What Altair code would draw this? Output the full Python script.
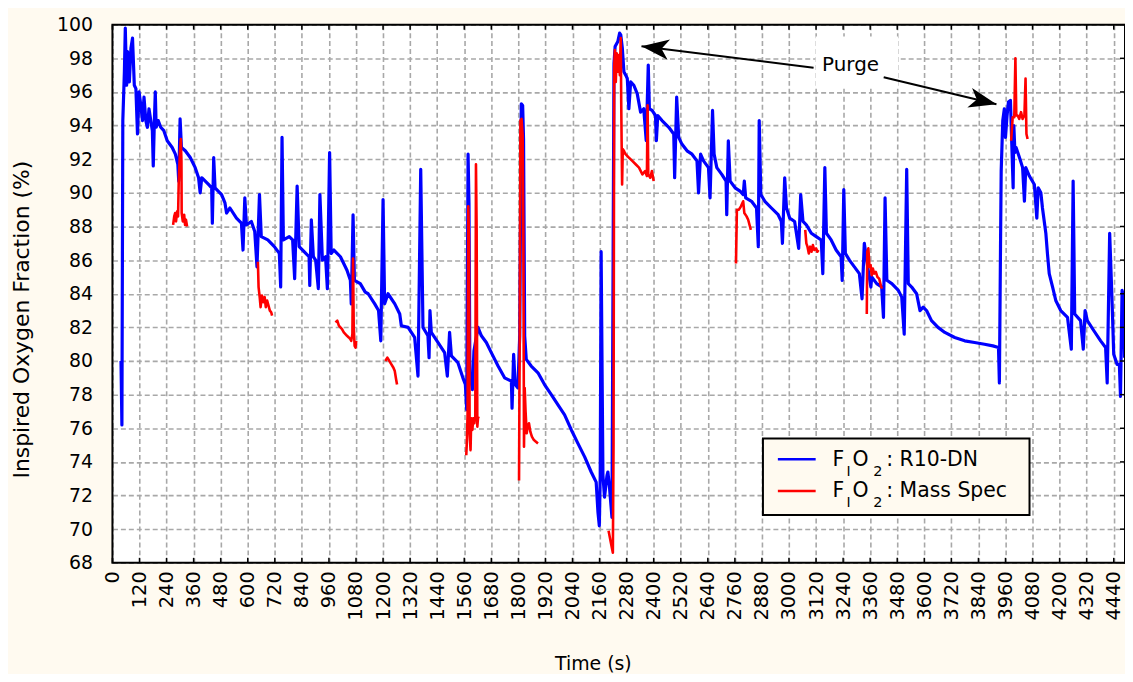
import altair as alt
import pandas as pd

FONT = "DejaVu Sans"

# ---------------- data ----------------
r10_time = [38, 42, 46, 53, 57, 63, 67, 75, 82, 89, 97, 104, 111, 118, 126, 133, 140, 148, 155, 162,
            170, 177, 181, 186, 190, 194, 203, 214, 228, 243, 265, 279, 290, 294, 300, 306, 323, 345, 367, 382,
            389, 396, 426, 440, 443, 449, 455, 484, 499, 506, 521, 550, 572, 579, 587, 594, 616, 631, 641, 652,
            660, 689, 718, 740, 746, 752, 758, 784, 799, 808, 819, 828, 850, 872, 875, 882, 891, 901, 913, 920,
            931, 945, 953, 963, 970, 982, 1011, 1040, 1055, 1059, 1067, 1073, 1099, 1121, 1134, 1163, 1180, 1190, 1200, 1207,
            1222, 1252, 1274, 1281, 1311, 1340, 1355, 1367, 1377, 1399, 1404, 1408, 1414, 1444, 1473, 1485, 1495, 1503, 1532, 1554,
            1565, 1571, 1577, 1581, 1585, 1596, 1603, 1621, 1636, 1658, 1680, 1710, 1739, 1769, 1772, 1779, 1786, 1798, 1806, 1813,
            1819, 1823, 1828, 1835, 1857, 1887, 1916, 1946, 1975, 2005, 2035, 2064, 2094, 2123, 2145, 2153, 2159, 2163, 2167, 2175,
            2182, 2193, 2197, 2204, 2215, 2224, 2229, 2241, 2249, 2254, 2261, 2268, 2276, 2283, 2290, 2298, 2312, 2327, 2342, 2356,
            2367, 2376, 2381, 2393, 2408, 2412, 2418, 2437, 2467, 2489, 2493, 2502, 2511, 2525, 2548, 2570, 2592, 2599, 2608, 2621,
            2643, 2650, 2661, 2668, 2680, 2702, 2721, 2724, 2731, 2739, 2761, 2783, 2797, 2802, 2808, 2834, 2856, 2864, 2868, 2875,
            2893, 2922, 2952, 2966, 2971, 2981, 2989, 3003, 3025, 3043, 3052, 3062, 3077, 3099, 3121, 3143, 3150, 3159, 3166, 3187,
            3209, 3231, 3236, 3243, 3250, 3268, 3290, 3312, 3324, 3334, 3349, 3363, 3367, 3389, 3411, 3419, 3426, 3434, 3456, 3485,
            3500, 3511, 3522, 3529, 3544, 3566, 3581, 3595, 3610, 3632, 3661, 3691, 3735, 3779, 3823, 3867, 3904, 3929, 3933, 3938,
            3941, 3948, 3955, 3960, 3967, 3973, 3982, 3988, 3994, 3997, 4002, 4007, 4022, 4036, 4044, 4050, 4066, 4088, 4099, 4105,
            4117, 4124, 4139, 4146, 4154, 4169, 4183, 4205, 4235, 4252, 4260, 4267, 4293, 4305, 4313, 4323, 4352, 4382, 4404, 4411,
            4422, 4432, 4440, 4455, 4465, 4470, 4477, 4484, 4488]
r10_fio2 = [80.0, 76.2, 94.3, 97.2, 99.8, 96.4, 98.4, 96.6, 98.6, 99.2, 96.4, 96.2, 93.5, 96.0, 95.2, 94.3, 95.7, 94.3, 93.9, 95.0,
            94.3, 93.7, 91.6, 94.3, 96.0, 93.9, 94.3, 93.9, 93.7, 93.1, 92.7, 92.3, 91.7, 90.7, 94.4, 92.7, 92.5, 92.1, 91.5, 90.9,
            90.0, 90.9, 90.5, 90.3, 88.2, 92.1, 90.3, 89.9, 89.4, 88.8, 89.1, 88.5, 88.2, 86.6, 89.7, 88.1, 88.3, 87.7, 85.6, 89.9,
            87.4, 87.2, 86.8, 86.4, 84.4, 93.3, 87.2, 87.4, 87.2, 84.9, 90.4, 86.8, 86.5, 86.2, 84.5, 88.4, 86.2, 86.0, 84.3, 89.9,
            86.0, 86.2, 84.3, 92.4, 86.4, 86.6, 86.2, 85.4, 84.8, 83.4, 88.7, 84.8, 84.6, 84.1, 84.0, 83.4, 83.0, 81.2, 89.6, 83.4,
            84.0, 83.4, 82.8, 82.1, 82.0, 81.4, 79.1, 91.4, 82.0, 81.5, 80.2, 83.0, 81.7, 81.1, 80.5, 79.1, 81.7, 80.3, 79.9, 79.0,
            78.6, 77.1, 92.3, 89.4, 79.3, 78.3, 80.6, 82.0, 81.5, 81.1, 80.5, 79.7, 79.0, 78.8, 77.2, 80.4, 78.6, 78.4, 81.5, 95.3,
            95.2, 93.2, 81.5, 80.1, 79.7, 79.3, 78.6, 78.0, 77.4, 76.8, 75.9, 75.1, 74.3, 73.4, 72.8, 71.0, 70.2, 73.2, 86.5, 73.2,
            71.9, 73.2, 73.4, 72.5, 70.7, 97.7, 98.7, 99.0, 99.5, 99.4, 98.6, 97.2, 97.0, 96.8, 95.0, 96.6, 96.4, 95.9, 94.8, 95.0,
            93.1, 97.6, 95.0, 94.9, 94.6, 93.1, 94.6, 94.3, 93.9, 93.5, 90.9, 95.7, 93.3, 92.9, 92.5, 92.3, 91.9, 90.0, 92.3, 91.9,
            91.5, 89.7, 94.9, 92.3, 91.5, 91.1, 90.7, 88.7, 93.1, 90.7, 90.3, 90.1, 89.9, 90.7, 89.7, 89.5, 89.1, 86.8, 94.3, 89.9,
            89.5, 89.1, 88.7, 88.3, 87.0, 90.9, 89.1, 88.5, 88.3, 86.7, 89.9, 88.3, 88.1, 87.6, 87.4, 87.2, 85.2, 91.5, 87.6, 87.2,
            86.6, 86.2, 84.8, 90.2, 86.4, 86.0, 85.6, 85.2, 83.7, 87.0, 85.6, 84.4, 85.0, 84.6, 84.4, 82.6, 89.7, 84.8, 84.6, 84.2,
            83.8, 81.6, 91.4, 84.6, 84.4, 84.0, 83.0, 83.2, 83.0, 82.4, 82.0, 81.7, 81.4, 81.2, 81.1, 81.0, 80.9, 80.8, 78.7, 86.8,
            91.3, 94.3, 95.0, 93.3, 94.6, 95.4, 95.5, 92.9, 90.3, 94.0, 92.4, 92.7, 92.1, 91.5, 89.5, 91.5, 91.0, 90.5, 88.5, 90.3,
            90.0, 89.1, 87.6, 86.4, 85.2, 84.4, 83.6, 83.0, 82.6, 80.7, 90.7, 82.8, 82.4, 80.7, 83.0, 82.4, 81.8, 81.2, 80.8, 78.7,
            87.6, 83.8, 80.4, 79.8, 79.8, 77.9, 84.2, 83.8, 80.2]

ms_time_1 = [269, 274, 278, 282, 287, 291, 294, 299, 303, 306, 307, 312, 318, 322, 326, 331]
ms_fio2_1 = [88.1, 88.6, 88.8, 88.3, 88.9, 88.6, 90.7, 92.3, 93.2, 91.9, 88.8, 88.3, 88.7, 88.1, 88.4, 88.0]
ms_time_2 = [645, 648, 653, 657, 663, 669, 675, 680, 686, 692, 698, 704, 708]
ms_fio2_2 = [85.9, 84.4, 83.8, 83.2, 83.9, 83.5, 83.8, 83.2, 83.6, 83.3, 83.0, 82.9, 82.7]
ms_time_3 = [989, 997, 1004, 1011, 1018, 1026, 1033, 1040, 1048, 1055, 1059, 1064, 1067, 1070, 1074, 1078, 1081]
ms_fio2_3 = [82.3, 82.4, 82.1, 82.0, 81.9, 81.7, 81.6, 81.5, 81.4, 81.3, 81.2, 81.6, 86.1, 82.0, 80.9, 80.8, 81.2]
ms_time_4 = [1210, 1219, 1228, 1237, 1246, 1252, 1258, 1262]
ms_fio2_4 = [80.0, 80.2, 80.0, 79.8, 79.6, 79.4, 78.9, 78.6]
ms_time_5 = [1569, 1572, 1575, 1578, 1581, 1584, 1588, 1591, 1596, 1600, 1605, 1609, 1612, 1615, 1618, 1621, 1624]
ms_fio2_5 = [74.4, 75.3, 77.0, 89.2, 87.3, 75.7, 74.7, 76.6, 75.9, 76.6, 76.3, 76.7, 91.7, 87.8, 76.1, 76.6, 76.7]
ms_time_6 = [1803, 1806, 1809, 1814, 1819, 1822, 1825, 1828, 1832, 1837, 1841, 1847, 1853, 1860, 1869, 1878, 1887]
ms_fio2_6 = [72.9, 81.5, 94.3, 94.4, 93.4, 87.8, 74.9, 78.4, 77.0, 75.7, 76.1, 76.3, 75.8, 75.5, 75.3, 75.2, 75.1]
ms_time_7 = [2200, 2210, 2219, 2222, 2225, 2228, 2232, 2236, 2240, 2245, 2250, 2254, 2256, 2258, 2260, 2263, 2268, 2275,
             2290, 2305, 2320, 2335, 2350, 2362, 2370, 2373, 2376, 2385, 2392, 2400]
ms_fio2_7 = [69.9, 69.2, 68.6, 75.0, 97.5, 98.5, 96.6, 98.3, 97.2, 98.2, 97.0, 99.2, 95.5, 92.9, 90.5, 92.6, 92.5, 92.3,
             92.1, 91.9, 91.7, 91.5, 91.1, 91.3, 91.0, 95.2, 91.1, 90.9, 91.3, 90.7]
ms_time_8 = [2765, 2769, 2778, 2787, 2797, 2802, 2812, 2819, 2827, 2831]
ms_fio2_8 = [85.8, 89.0, 89.0, 89.2, 89.5, 88.8, 88.6, 88.4, 88.0, 87.8]
ms_time_9 = [3072, 3077, 3082, 3088, 3094, 3100, 3106, 3112, 3120, 3126, 3131]
ms_fio2_9 = [87.8, 87.0, 86.8, 86.4, 86.8, 86.5, 86.9, 86.6, 86.7, 86.5, 86.6]
ms_time_10 = [3345, 3347, 3352, 3357, 3362, 3367, 3372, 3378, 3385, 3392, 3400, 3407, 3412]
ms_fio2_10 = [82.8, 86.5, 86.7, 85.6, 85.7, 85.1, 85.5, 85.2, 85.3, 85.0, 84.9, 84.5, 84.3]
ms_time_11 = [3985, 3992, 3999, 4004, 4008, 4014, 4021, 4029, 4036, 4044, 4049, 4053, 4058]
ms_fio2_11 = [93.1, 94.5, 94.5, 98.0, 94.6, 94.6, 94.4, 94.8, 94.4, 94.6, 96.8, 93.5, 93.2]

ms_times = [ms_time_1, ms_time_2, ms_time_3, ms_time_4, ms_time_5, ms_time_6,
            ms_time_7, ms_time_8, ms_time_9, ms_time_10, ms_time_11]
ms_values = [ms_fio2_1, ms_fio2_2, ms_fio2_3, ms_fio2_4, ms_fio2_5, ms_fio2_6,
             ms_fio2_7, ms_fio2_8, ms_fio2_9, ms_fio2_10, ms_fio2_11]

x_ticks = list(range(0, 4441, 120))
y_ticks = list(range(68, 101, 2))

# annotation (data units)
purge_label_t, purge_label_v = 3273, 97.6
purge_box_t = [3118, 3484]
purge_box_v = [96.25, 99.3]
arrow_tail_t = [3109, 3420]
arrow_tail_v = [97.44, 96.88]
arrow_tip_t = [2346, 3920]
arrow_tip_v = [98.72, 95.27]
arrow_angle = [277.1, 103.5]

# ---------------- frames ----------------
blue_df = pd.DataFrame({"t": r10_time, "v": r10_fio2})
rows = []
for i, (ts, vs) in enumerate(zip(ms_times, ms_values)):
    for t, v in zip(ts, vs):
        rows.append({"t": t, "v": v, "seg": i})
red_df = pd.DataFrame(rows)
xt_df = pd.DataFrame({"t": x_ticks})
yt_df = pd.DataFrame({"v": y_ticks})
one = pd.DataFrame({"a": [0]})
arrow_df = pd.DataFrame({"t": arrow_tail_t, "v": arrow_tail_v, "t2": arrow_tip_t,
                         "v2": arrow_tip_v, "ang": arrow_angle})
head_df = pd.DataFrame({"t": arrow_tip_t, "v": arrow_tip_v, "ang": arrow_angle})
box_df = pd.DataFrame({"t": [purge_box_t[0]], "t2": [purge_box_t[1]],
                       "v": [purge_box_v[0]], "v2": [purge_box_v[1]]})
label_df = pd.DataFrame({"t": [purge_label_t], "v": [purge_label_v], "txt": ["Purge"]})

W, H = 1018, 541
BG = "#FFFAF0"

xs = alt.Scale(domain=[0, 4490], nice=False, zero=False)
ys = alt.Scale(domain=[68, 100], nice=False, zero=False)

grid_kw = dict(grid=True, gridColor="#a8a8a8", gridDash=[5, 3], gridWidth=1.6,
               ticks=False, tickSize=0, domain=False, labelOverlap=False, labelFlush=False,
               labelFont=FONT, labelColor="black", titleFont=FONT, titleColor="black",
               titleFontWeight="normal", format="d")

x_axis = alt.Axis(values=x_ticks, labelAngle=270, labelAlign="right", labelBaseline="middle",
                  labelFontSize=19.5, labelPadding=8, title="Time (s)", titleFontSize=19,
                  titleX=483, titleY=101, titleAlign="center", titleBaseline="middle", titleAngle=0,
                  **grid_kw)
y_axis = alt.Axis(values=y_ticks, labelFontSize=19, labelPadding=20,
                  title="Inspired Oxygen Fraction (%)", titleFontSize=22,
                  titleX=-91, titleY=296, titleAngle=270, titleAlign="center", titleBaseline="middle",
                  **grid_kw)

X = alt.X("t:Q", scale=xs, axis=x_axis)
Y = alt.Y("v:Q", scale=ys, axis=y_axis)

blue = alt.Chart(blue_df).mark_line(color="#0000FF", strokeWidth=3.2, strokeJoin="round").encode(
    x=X, y=Y)
red = alt.Chart(red_df).mark_line(color="#FF0000", strokeWidth=2.6, strokeJoin="round").encode(
    x=X, y=Y, detail="seg:N")

tick_top = alt.Chart(xt_df).mark_rule(color="black", strokeWidth=1.5).encode(
    x=X, y=alt.value(0), y2=alt.value(5))
tick_bot = alt.Chart(xt_df).mark_rule(color="black", strokeWidth=1.5).encode(
    x=X, y=alt.value(H), y2=alt.value(H - 5))
tick_right = alt.Chart(yt_df).mark_rule(color="black", strokeWidth=1.5).encode(
    y=Y, x=alt.value(W), x2=alt.value(W - 5))

frame = alt.Chart(one).mark_rect(fillOpacity=0, stroke="black", strokeWidth=2).encode(
    x=alt.value(0), x2=alt.value(W), y=alt.value(0), y2=alt.value(H))

pbox = alt.Chart(box_df).mark_rect(color="white").encode(x=X, x2="t2:Q", y=Y, y2="v2:Q")
arrows = alt.Chart(arrow_df).mark_rule(color="black", strokeWidth=2).encode(
    x=X, x2="t2:Q", y=Y, y2="v2:Q")
heads = alt.Chart(head_df).mark_point(
    shape="M0,0 L1.1,3 L0,2.2 L-1.1,3 Z", filled=True, color="black", opacity=1, size=340,
    strokeWidth=0).encode(x=X, y=Y, angle=alt.Angle("ang:Q", scale=None))
purge = alt.Chart(label_df).mark_text(font=FONT, fontSize=20, color="black", align="center",
                                      baseline="middle").encode(x=X, y=Y, text="txt:N")

# legend (drawn by hand for the subscripts)
leg_box = alt.Chart(one).mark_rect(fill=BG, stroke="black", strokeWidth=2).encode(
    x=alt.value(654), x2=alt.value(922), y=alt.value(416), y2=alt.value(493))
legend_layers = [leg_box]
for i, (name, col) in enumerate([("R10-DN", "#0000FF"), ("Mass Spec", "#FF0000")]):
    b = 443.7 + i * 31.6
    ly = 437 + i * 31.7
    legend_layers.append(alt.Chart(one).mark_rule(color=col, strokeWidth=2.5).encode(
        x=alt.value(669), x2=alt.value(707), y=alt.value(ly)))
    for txt, xx, dy, fs in [("F", 724, 0, 20.5), ("I", 738, 10, 14), ("O", 744, 0, 20.5),
                            ("2", 765, 10, 14.5), (": " + name, 778, 0, 20.5)]:
        legend_layers.append(alt.Chart(one).mark_text(
            text=txt, font=FONT, fontSize=fs, color="black", align="left",
            baseline="alphabetic").encode(x=alt.value(xx), y=alt.value(b + dy)))

chart = alt.layer(
    pbox, blue, red, tick_top, tick_bot, tick_right, frame, arrows, heads, purge, *legend_layers
).properties(
    width=W, height=H,
    padding={"left": 105, "top": 15, "right": 0, "bottom": 110},
    autosize=alt.AutoSizeParams(type="none"),
    background=BG,
).configure_view(strokeWidth=0, fill="white")

chart.save("out.html", embed_options={"renderer": "svg", "actions": False})
